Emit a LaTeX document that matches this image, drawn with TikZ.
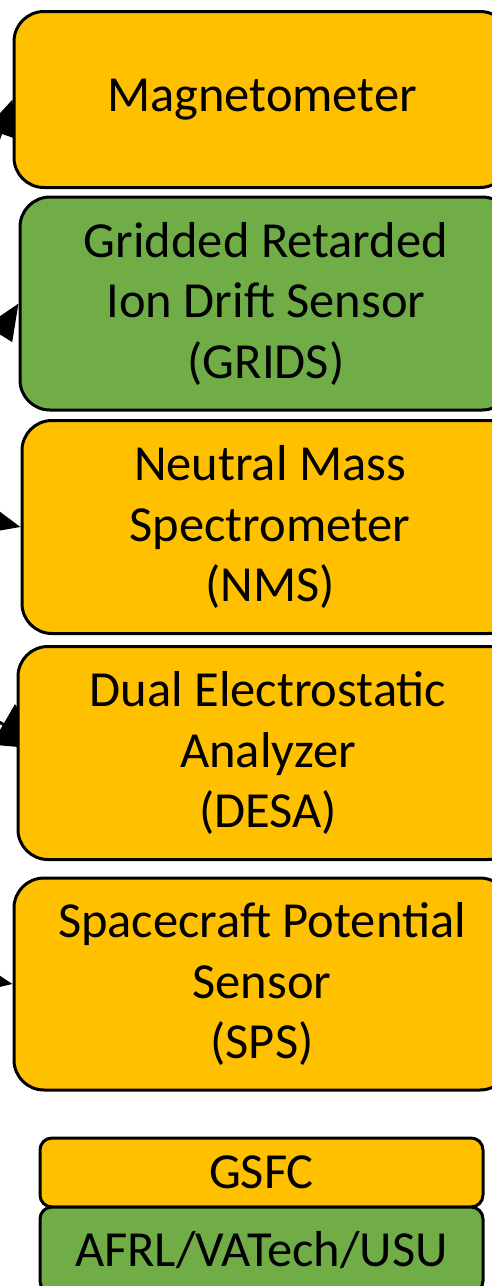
\documentclass[tikz,border=0pt]{standalone}
\usepackage{fontspec}
\setmainfont{Carlito}
\usetikzlibrary{arrows.meta,backgrounds}
\definecolor{gsfcgold}{HTML}{FFC000}
\definecolor{afrlgreen}{HTML}{70AD47}

\begin{document}
\begin{tikzpicture}[x=1pt, y=-1pt,
    inst/.style={draw=black, line width=3pt, rounded corners=30pt, align=center,
        inner sep=0pt, font=\fontsize{50.5}{60.5}\selectfont},
    gsfcbox/.style={inst, fill=gsfcgold},
    afrlbox/.style={inst, fill=afrlgreen},
    keybox/.style={rounded corners=12pt, minimum width=443pt},
    feed/.style={line width=3pt, -{Triangle[length=36pt, width=30pt]}}]
    \useasboundingbox (0, 0) rectangle (492, 1286);

    % instruments
    \node[gsfcbox, minimum width=496pt, minimum height=176pt] (mag) at (262, 99.5) {Magnetometer};
    \node[afrlbox, minimum width=492pt, minimum height=213pt] (grids) at (266, 303.5)
        {Gridded Retarded\\Ion Drift Sensor\\(GRIDS)};
    \node[gsfcbox, minimum width=496pt, minimum height=213pt] (nms) at (270, 527)
        {Neutral Mass\\Spectrometer\\(NMS)};
    \node[gsfcbox, minimum width=500pt, minimum height=213pt] (desa) at (268, 753)
        {Dual Electrostatic\\Analyzer\\(DESA)};
    \node[gsfcbox, minimum width=496pt, minimum height=212pt] (sps) at (262, 984)
        {Spacecraft Potential\\Sensor\\(SPS)};

    % key
    \node[gsfcbox, keybox, minimum height=69pt] (gsfc) at (261.5, 1172.5) {GSFC};
    \node[afrlbox, keybox, minimum height=86pt] (afrl) at (261.5, 1250) {AFRL/VATech/USU};

    % feeds coming in from the left
    \coordinate (magsrc) at (-40, 250);
    \coordinate (gridssrc) at (-60, 427);
    \coordinate (nmssrc) at (-80, 503);
    \coordinate (desasrc) at (-80, 676);
    \coordinate (spssrc) at (-60, 971);
    \coordinate (desatip) at ([shift={(30,-3.5)}]desa.west);
    \begin{pgfonlayer}{background}
        \draw[feed] (magsrc) -- (mag.west);
        \draw[feed] (gridssrc) -- (grids.west);
        \draw[feed] (nmssrc) -- (nms.west);
        \draw[feed, -{Triangle[length=50pt, width=46pt]}] (desasrc) -- (desatip);
        \draw[feed] (spssrc) -- (sps.west);
    \end{pgfonlayer}
\end{tikzpicture}
\end{document}
